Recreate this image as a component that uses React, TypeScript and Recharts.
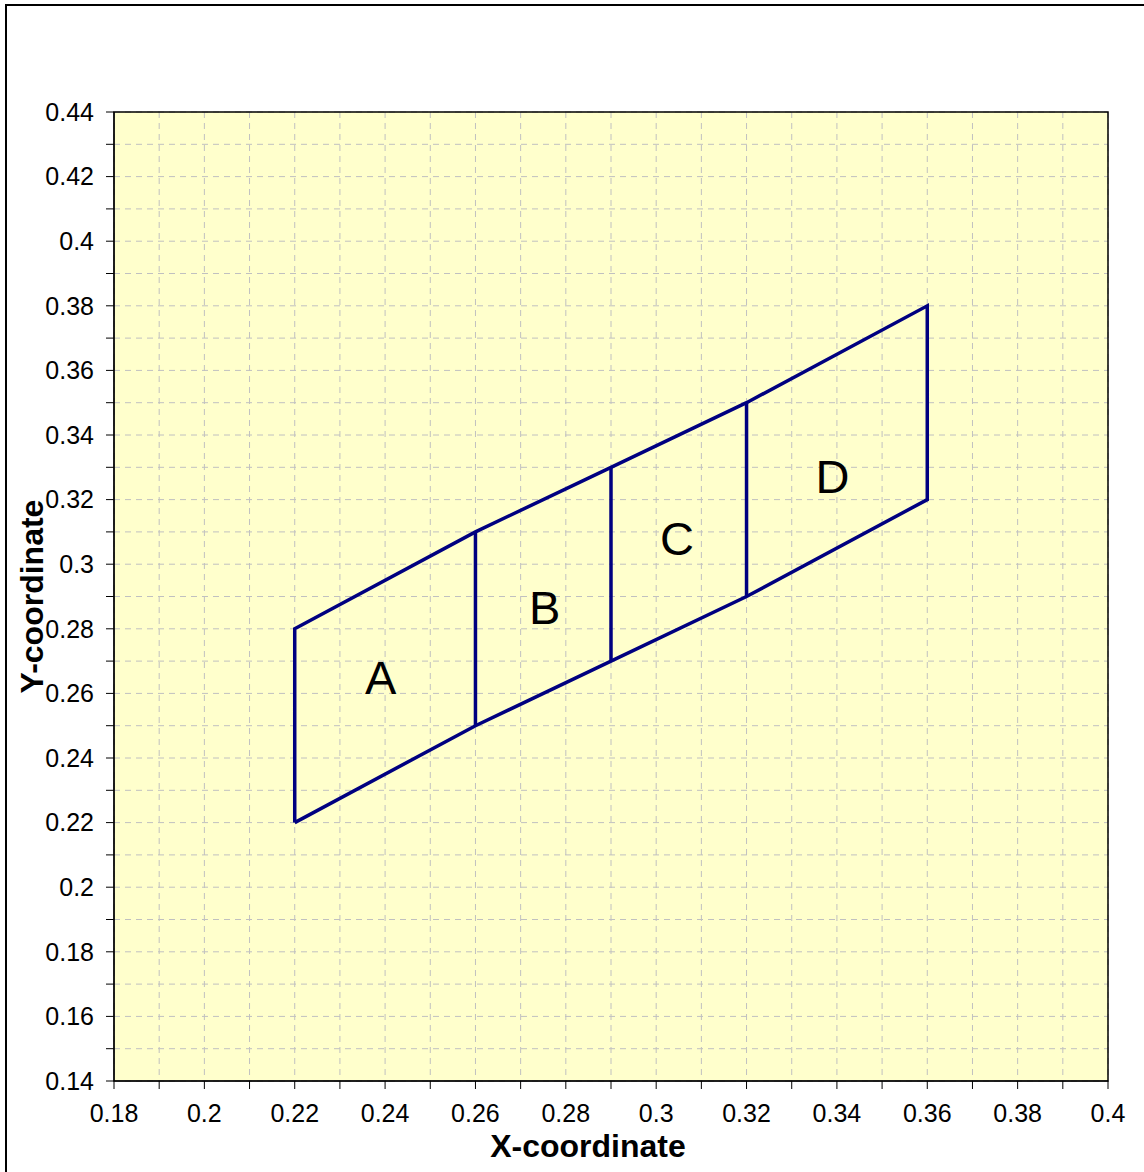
import React from "react";
import {
  ScatterChart,
  Scatter,
  XAxis,
  YAxis,
  CartesianGrid,
  ReferenceArea,
} from "recharts";

// axis ticks (every 0.01, labels on every 0.02)
const xTicks = [
  0.18, 0.19, 0.2, 0.21, 0.22, 0.23, 0.24, 0.25, 0.26, 0.27, 0.28, 0.29, 0.3,
  0.31, 0.32, 0.33, 0.34, 0.35, 0.36, 0.37, 0.38, 0.39, 0.4,
];
const yTicks = [
  0.14, 0.15, 0.16, 0.17, 0.18, 0.19, 0.2, 0.21, 0.22, 0.23, 0.24, 0.25, 0.26,
  0.27, 0.28, 0.29, 0.3, 0.31, 0.32, 0.33, 0.34, 0.35, 0.36, 0.37, 0.38, 0.39,
  0.4, 0.41, 0.42, 0.43, 0.44,
];

// outline of the four cells
const outline = [
  { x: 0.22, y: 0.22 },
  { x: 0.22, y: 0.28 },
  { x: 0.26, y: 0.31 },
  { x: 0.29, y: 0.33 },
  { x: 0.32, y: 0.35 },
  { x: 0.36, y: 0.38 },
  { x: 0.36, y: 0.32 },
  { x: 0.32, y: 0.29 },
  { x: 0.29, y: 0.27 },
  { x: 0.26, y: 0.25 },
  { x: 0.22, y: 0.22 },
];

// inner dividers
const dividerB = [
  { x: 0.26, y: 0.25 },
  { x: 0.26, y: 0.31 },
];
const dividerC = [
  { x: 0.29, y: 0.27 },
  { x: 0.29, y: 0.33 },
];
const dividerD = [
  { x: 0.32, y: 0.29 },
  { x: 0.32, y: 0.35 },
];

// cell names
const cellLabels = [
  { x: 0.239, y: 0.265, name: "A" },
  { x: 0.2753, y: 0.2865, name: "B" },
  { x: 0.3046, y: 0.308, name: "C" },
  { x: 0.339, y: 0.327, name: "D" },
];

const FONT = "'Liberation Sans', Arial, sans-serif";
const LINE = "#000080";

const fmt = (v: number) =>
  Math.round(v * 100) % 2 === 0 ? String(Number(v.toFixed(2))) : "";

const noDot = () => <g />;

const LetterShape = (props: any) => (
  <text
    x={props.cx}
    y={props.cy}
    textAnchor="middle"
    dominantBaseline="central"
    fontFamily={FONT}
    fontSize={47}
    fill="#000"
  >
    {props.payload.name}
  </text>
);

export default function App() {
  return (
    <div
      style={{
        position: "absolute",
        left: 0,
        top: 0,
        width: 1144,
        height: 1172,
        overflow: "hidden",
        background: "#fff",
      }}
    >
      <div
        style={{
          position: "absolute",
          left: 5,
          top: 4,
          width: 1160,
          height: 1190,
          border: "2px solid #000",
        }}
      />
      <div style={{ position: "absolute", left: 0, top: 0 }}>
        <ScatterChart
          width={1144}
          height={1172}
          margin={{ top: 112, right: 36, bottom: 31, left: 0 }}
          style={{ fontFamily: FONT }}
        >
          <CartesianGrid
            stroke="#c0c0c0"
            strokeDasharray="6 5"
            fill="#FFFFCC"
            fillOpacity={1}
          />
          <XAxis
            type="number"
            dataKey="x"
            domain={[0.18, 0.4]}
            ticks={xTicks}
            interval={0}
            tickFormatter={fmt}
            height={60}
            tickSize={8}
            tickMargin={15}
            stroke="#000"
            tick={{ fill: "#000", fontSize: 25, fontFamily: FONT }}
            label={{
              content: (p: any) => {
                const vb = p.viewBox;
                return (
                  <text
                    x={vb.x + vb.width / 2 - 23}
                    y={1146}
                    textAnchor="middle"
                    dominantBaseline="central"
                    fontFamily={FONT}
                    fontWeight="bold"
                    fontSize={32}
                    fill="#000"
                  >
                    X-coordinate
                  </text>
                );
              },
            }}
          />
          <YAxis
            type="number"
            dataKey="y"
            domain={[0.14, 0.44]}
            ticks={yTicks}
            interval={0}
            tickFormatter={fmt}
            width={114}
            tickSize={8}
            tickMargin={12}
            stroke="#000"
            tick={{ fill: "#000", fontSize: 25, fontFamily: FONT }}
            label={{
              content: (p: any) => {
                const vb = p.viewBox;
                const cx = 32;
                const cy = vb.y + vb.height / 2;
                return (
                  <text
                    x={cx}
                    y={cy}
                    transform={`rotate(-90, ${cx}, ${cy})`}
                    textAnchor="middle"
                    dominantBaseline="central"
                    fontFamily={FONT}
                    fontWeight="bold"
                    fontSize={32}
                    fill="#000"
                  >
                    Y-coordinate
                  </text>
                );
              },
            }}
          />
          <ReferenceArea
            x1={0.18}
            x2={0.4}
            y1={0.14}
            y2={0.44}
            fill="none"
            stroke="#000"
            strokeWidth={1.5}
          />
          <Scatter
            data={outline}
            line={{ stroke: LINE, strokeWidth: 3.5 }}
            lineType="joint"
            shape={noDot}
            isAnimationActive={false}
          />
          <Scatter
            data={dividerB}
            line={{ stroke: LINE, strokeWidth: 3.5 }}
            lineType="joint"
            shape={noDot}
            isAnimationActive={false}
          />
          <Scatter
            data={dividerC}
            line={{ stroke: LINE, strokeWidth: 3.5 }}
            lineType="joint"
            shape={noDot}
            isAnimationActive={false}
          />
          <Scatter
            data={dividerD}
            line={{ stroke: LINE, strokeWidth: 3.5 }}
            lineType="joint"
            shape={noDot}
            isAnimationActive={false}
          />
          <Scatter
            data={cellLabels}
            shape={LetterShape}
            isAnimationActive={false}
          />
        </ScatterChart>
      </div>
    </div>
  );
}
